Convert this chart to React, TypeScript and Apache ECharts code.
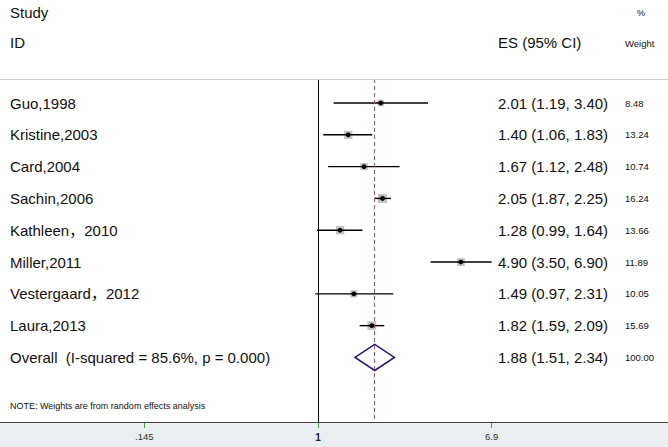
import React, { useEffect, useRef } from "react";
import * as echarts from "echarts";

const studies = [
  "Guo,1998",
  "Kristine,2003",
  "Card,2004",
  "Sachin,2006",
  "Kathleen，2010",
  "Miller,2011",
  "Vestergaard，2012",
  "Laura,2013",
];
const es = [2.01, 1.4, 1.67, 2.05, 1.28, 4.9, 1.49, 1.82];
const lo = [1.19, 1.06, 1.12, 1.87, 0.99, 3.5, 0.97, 1.59];
const hi = [3.4, 1.83, 2.48, 2.25, 1.64, 6.9, 2.31, 2.09];
const weights = [8.48, 13.24, 10.74, 16.24, 13.66, 11.89, 10.05, 15.69];

const overallLabel = "Overall  (I-squared = 85.6%, p = 0.000)";
const overallEs = 1.88;
const overallLo = 1.51;
const overallHi = 2.34;
const overallWeight = 100.0;

const tickValues = [0.145, 1, 6.9];
const tickLabels = [".145", "1", "6.9"];

const FONT = "'Liberation Sans', Arial, 'Noto Sans CJK SC', sans-serif";

export default function App() {
  const ref = useRef<HTMLDivElement>(null);
  useEffect(() => {
    if (!ref.current) return;
    const chart = echarts.init(ref.current, null, { renderer: "svg" });
    const rows: any[] = studies.map((s, i) => [i, es[i], lo[i], hi[i], weights[i]]);
    rows.push([studies.length, overallEs, overallLo, overallHi, overallWeight]);
    const names = [...studies, overallLabel];
    const fmt = (v: number) => v.toFixed(2);

    const option: any = {
      animation: false,
      backgroundColor: "#ffffff",
      grid: { left: 144, right: 176, top: 79, bottom: 25 },
      xAxis: {
        type: "log",
        logBase: 10,
        position: "bottom",
        min: 0.1445,
        max: 6.925,
        axisLine: { show: false, onZero: false },
        splitLine: { show: false },
        axisTick: {
          show: true,
          customValues: tickValues,
          length: 6,
          lineStyle: { color: "#4a9d4a", width: 1 },
        },
        axisLabel: {
          customValues: tickValues,
          margin: 10,
          fontSize: 9.5,
          fontFamily: FONT,
          color: "#333",
          showMinLabel: true,
          showMaxLabel: true,
          formatter: (v: number) => {
            const i = tickValues.findIndex((t) => Math.abs(t - v) < 1e-6);
            const s = i >= 0 ? tickLabels[i] : String(v);
            return Math.abs(v - 1) < 1e-9 ? "{b|" + s + "}" : s;
          },
          rich: { b: { fontWeight: "bold", fontSize: 10, fontFamily: FONT, color: "#222" } },
        },
      },
      yAxis: { type: "value", inverse: true, min: -0.755, max: 10.03, show: false },
      graphic: [
        { type: "rect", z: -10, shape: { x: 0, y: 422, width: 668, height: 25 }, style: { fill: "#e9eff1" } },
        { type: "line", z: 10, shape: { x1: 0, y1: 422.5, x2: 668, y2: 422.5 }, style: { stroke: "#444", lineWidth: 1 } },
        { type: "line", z: 10, shape: { x1: 0, y1: 79.5, x2: 668, y2: 79.5 }, style: { stroke: "#cfcfcf", lineWidth: 1 } },
        { type: "text", style: { x: 10, y: 12, text: "Study", fill: "#111", font: "15px " + FONT, verticalAlign: "middle" } },
        { type: "text", style: { x: 10, y: 42, text: "ID", fill: "#111", font: "15px " + FONT, verticalAlign: "middle" } },
        { type: "text", style: { x: 498, y: 42, text: "ES (95% CI)", fill: "#111", font: "15px " + FONT, verticalAlign: "middle" } },
        { type: "text", style: { x: 637, y: 13, text: "%", fill: "#111", font: "9px " + FONT, verticalAlign: "middle" } },
        { type: "text", style: { x: 625, y: 43, text: "Weight", fill: "#111", font: "9.5px " + FONT, verticalAlign: "middle" } },
        { type: "text", style: { x: 10, y: 406, text: "NOTE: Weights are from random effects analysis", fill: "#111", font: "9px " + FONT, verticalAlign: "middle" } },
      ],
      series: [
        {
          type: "custom",
          coordinateSystem: "cartesian2d",
          clip: false,
          encode: { x: [1, 2, 3], y: 0 },
          data: rows,
          renderItem: (params: any, api: any) => {
            const idx = params.dataIndex;
            const row = api.value(0);
            const e = api.value(1);
            const l = api.value(2);
            const h = api.value(3);
            const w = api.value(4);
            const pE = api.coord([e, row]);
            const pL = api.coord([l, row]);
            const pH = api.coord([h, row]);
            const y = pE[1];
            const children: any[] = [];
            if (idx === studies.length) {
              const dy = api.coord([e, row + 0.41])[1] - y;
              children.push({
                type: "polygon",
                shape: { points: [[pL[0], y], [pE[0], y - dy], [pH[0], y], [pE[0], y + dy]] },
                style: { fill: "none", stroke: "#1c1c6e", lineWidth: 1.5 },
              });
            } else {
              const s = 2.25 * Math.sqrt(w);
              children.push({
                type: "rect",
                shape: { x: pE[0] - s / 2, y: y - s / 2, width: s, height: s },
                style: { fill: "#c4c4c4" },
              });
              children.push({
                type: "line",
                shape: { x1: pL[0], y1: y, x2: pH[0], y2: y },
                style: { stroke: "#000", lineWidth: 1.4 },
              });
              children.push({
                type: "circle",
                shape: { cx: pE[0], cy: y, r: 2.4 },
                style: { fill: "#000" },
              });
            }
            children.push({
              type: "text",
              style: { x: 10, y, text: names[idx], fill: "#111", font: "15px " + FONT, verticalAlign: "middle" },
            });
            children.push({
              type: "text",
              style: {
                x: 498,
                y,
                text: fmt(e) + " (" + fmt(l) + ", " + fmt(h) + ")",
                fill: "#111",
                font: "15px " + FONT,
                verticalAlign: "middle",
              },
            });
            children.push({
              type: "text",
              style: { x: 625, y, text: fmt(w), fill: "#111", font: "9.5px " + FONT, verticalAlign: "middle" },
            });
            return { type: "group", children };
          },
          markLine: {
            silent: true,
            symbol: "none",
            label: { show: false },
            data: [
              { xAxis: 1, lineStyle: { color: "#000", type: "solid", width: 1 } },
              { xAxis: overallEs, lineStyle: { color: "#a3566b", type: [4, 3], width: 1 } },
            ],
          },
        },
      ],
    };
    chart.setOption(option);
    return () => chart.dispose();
  }, []);
  return (
    <div
      ref={ref}
      style={{ position: "fixed", left: 0, top: 0, width: 668, height: 447 }}
    />
  );
}
